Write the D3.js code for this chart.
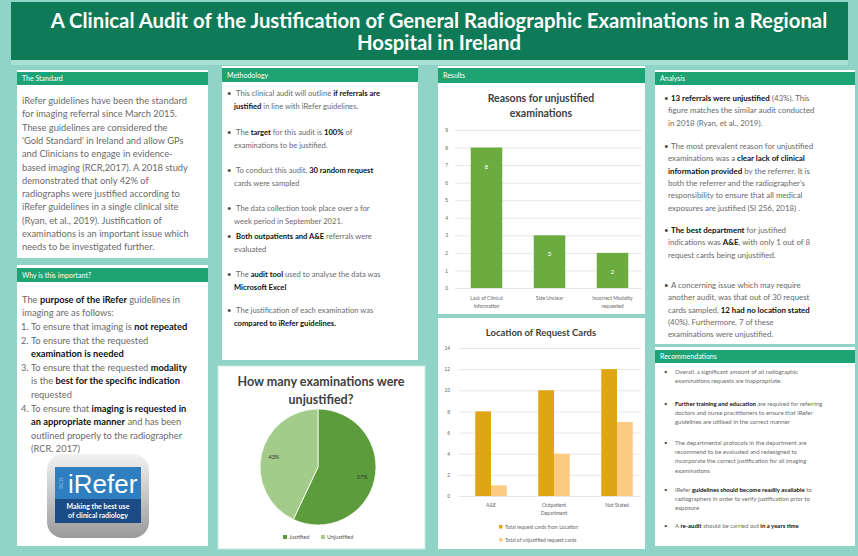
<!DOCTYPE html>
<html><head><meta charset="utf-8">
<script src="https://cdn.jsdelivr.net/npm/d3@7"></script>
<style>
html,body{margin:0;padding:0;background:#8fd4c6;}
svg{display:block;font-family:Lato,"Open Sans",sans-serif;}
</style></head>
<body>
<svg id="poster" width="858" height="556"></svg>
<script>
// ---------------- DATA ----------------
const titleLines = ["A Clinical Audit of the Justification of General Radiographic Examinations in a Regional", "Hospital in Ireland"];

const reasonCategories = [["Lack of Clinical", "Information"], ["Side Unclear"], ["Incorrect Modality", "requested"]];
const reasonValues = [8, 3, 2];
const reasonTicks = [0, 1, 2, 3, 4, 5, 6, 7, 8, 9];

const locationCategories = [["A&E"], ["Outpatient", "Department"], ["Not Stated"]];
const locationSeries = ["Total request cards from Location", "Total of unjustified request cards"];
const totalCards = [8, 10, 12];
const unjustifiedCards = [1, 4, 7];
const locationTicks = [0, 2, 4, 6, 8, 10, 12, 14];

const pieLabels = ["Justified", "Unjustified"];
const pieValues = [57, 43];

const standardText = [
  "iRefer guidelines have been the standard",
  "for imaging referral since March 2015.",
  "These guidelines are considered the",
  "'Gold Standard' in Ireland and allow GPs",
  "and Clinicians to engage in evidence-",
  "based imaging (RCR,2017). A 2018 study",
  "demonstrated that only 42% of",
  "radiographs were justified according to",
  "iRefer guidelines in a single clinical site",
  "(Ryan, et al., 2019). Justification of",
  "examinations is an important issue which",
  "needs to be investigated further."
];
const importantIntro = ["The **purpose of the iRefer** guidelines in", "imaging are as follows:"];
const importantItems = [
  ["To ensure that imaging is **not repeated**"],
  ["To ensure that the requested", "**examination is needed**"],
  ["To ensure that the requested **modality**", "is the **best for the specific indication**", "requested"],
  ["To ensure that **imaging is requested in**", "**an appropriate manner** and has been", "outlined properly to the radiographer", "(RCR. 2017)"]
];
const methodItems = [
  ["This clinical audit will outline **if referrals are**", "**justified** in line with iRefer guidelines."],
  ["The **target** for this audit is **100%** of", "examinations to be justified."],
  ["To conduct this audit, **30 random request**", "cards were sampled"],
  ["The data collection took place over a for", "week period in September 2021."],
  [" **Both outpatients and A&E** referrals were", "evaluated"],
  ["The **audit tool** used to analyse the data was", "**Microsoft Excel**"],
  ["  The justification of each examination was", "**compared to iRefer guidelines.**"]
];
const analysisItems = [
  ["**13 referrals were unjustified** (43%). This", "figure matches the similar audit conducted", "in 2018 (Ryan, et al., 2019)."],
  ["The most prevalent reason for unjustified", "examinations was a **clear lack of clinical**", "**information provided** by the referrer. It is", "both the referrer and the radiographer's", "responsibility to ensure that all medical", "exposures are justified (SI 256, 2018) ."],
  ["**The best department** for justified", "indications was **A&E**, with only 1 out of 8", "request cards being unjustified."],
  ["A concerning issue which may require", "another audit, was that out of 30 request", "cards sampled, **12 had no location stated**", "(40%). Furthermore, 7 of these", "examinations were unjustified."]
];
const recItems = [
  ["Overall, a significant amount of all radiographic", "examinations requests are inappropriate."],
  ["**Further training and education** are required for referring", "doctors and nurse practitioners to ensure that iRefer", "guidelines are utilised in the correct manner"],
  ["The departmental protocols in the department are", "recommend to be evaluated and redesigned to", "incorporate the correct justification for all imaging", "examinations"],
  ["iRefer **guidelines should become readily available** to", "radiographers in order to verify justification prior to", "exposure"],
  ["A **re-audit** should be carried out **in a years time**"]
];

// ---------------- HELPERS ----------------
const svg = d3.select("#poster");
const TEAL = "#8fd4c6", HEAD = "#1ea474", BANNER = "#0e7a57", BODY = "#6a6a6a";

function richLine(g, x, y, str, size, color, anchor) {
  const t = g.append("text").attr("x", x).attr("y", y)
    .attr("font-size", size).attr("fill", color).attr("text-anchor", anchor || "start");
  str.split("**").forEach((seg, i) => {
    if (!seg) return;
    t.append("tspan").text(seg)
      .attr("font-weight", i % 2 ? 700 : 400)
      .attr("fill", i % 2 ? "#111" : color);
  });
  return t;
}
function panel(x, y, w, h, title, hy, hh) {
  svg.append("rect").attr("x", x).attr("y", y).attr("width", w).attr("height", h).attr("fill", "#fff");
  if (title) {
    svg.append("rect").attr("x", x).attr("y", hy).attr("width", w).attr("height", hh).attr("fill", HEAD);
    svg.append("text").attr("x", x + 5).attr("y", hy + hh / 2 + 2.5).attr("font-size", 7)
      .attr("fill", "#fff").text(title);
  }
}

// ---------------- BACKGROUND & TITLE ----------------
svg.append("rect").attr("width", 858).attr("height", 556).attr("fill", TEAL);
svg.append("rect").attr("x", 11).attr("y", 2).attr("width", 837).attr("height", 58).attr("fill", BANNER);
svg.append("rect").attr("x", 11).attr("y", 60).attr("width", 837).attr("height", 5).attr("fill", "#a9e2d5");
titleLines.forEach((l, i) => {
  svg.append("text").attr("x", 439).attr("y", 28 + i * 22).attr("text-anchor", "middle")
    .attr("font-size", 20.3).attr("font-weight", 700).attr("fill", "#fff").text(l);
});

// ---------------- COLUMN 1 ----------------
panel(17, 70, 191, 188, "The Standard", 72, 13);
standardText.forEach((l, i) => richLine(svg, 22, 104 + i * 13.3, l, 9.3, BODY));

panel(17, 265, 191, 281, "Why is this important?", 268, 14);
importantIntro.forEach((l, i) => richLine(svg, 22, 303 + i * 13.3, l, 9.3, BODY));
{
  let y = 330;
  importantItems.forEach((item, k) => {
    svg.append("text").attr("x", 21).attr("y", y).attr("font-size", 9.3).attr("fill", BODY).text((k + 1) + ".");
    item.forEach((l, i) => richLine(svg, 31, y + i * 13.6, l, 9.3, BODY));
    y += item.length * 13.6;
  });
}
// logo
{
  const lg = svg.append("g");
  const grad = svg.append("defs").append("linearGradient").attr("id", "lgGrad")
    .attr("x1", 0).attr("y1", 0).attr("x2", 0).attr("y2", 1);
  grad.append("stop").attr("offset", 0).attr("stop-color", "#f2f2f2");
  grad.append("stop").attr("offset", 1).attr("stop-color", "#9a9a9a");
  lg.append("rect").attr("x", 47).attr("y", 454).attr("width", 102).attr("height", 84).attr("rx", 16).attr("fill", "url(#lgGrad)");
  lg.append("rect").attr("x", 55).attr("y", 467).attr("width", 86).attr("height", 32).attr("fill", "#2f7fc0");
  lg.append("rect").attr("x", 55).attr("y", 499).attr("width", 86).attr("height", 24).attr("fill", "#1c4c86");
  lg.append("text").attr("x", 63).attr("y", 483).attr("font-size", 6).attr("fill", "#8fb8e0")
    .attr("transform", "rotate(-90 63 483)").attr("text-anchor", "middle").text("RCR");
  lg.append("text").attr("x", 68).attr("y", 493).attr("font-size", 26).attr("fill", "#fff")
    .attr("font-family", "Liberation Sans, Arial").text("iRefer");
  lg.append("text").attr("x", 98).attr("y", 509).attr("font-size", 7).attr("font-weight", 700)
    .attr("fill", "#fff").attr("text-anchor", "middle").text("Making the best use");
  lg.append("text").attr("x", 98).attr("y", 518).attr("font-size", 7).attr("font-weight", 700)
    .attr("fill", "#fff").attr("text-anchor", "middle").text("of clinical radiology");
}

// ---------------- COLUMN 2 ----------------
panel(222, 66, 196, 294, "Methodology", 68, 14);
{
  const ys = [96, 135, 173, 211, 239, 277, 313];
  methodItems.forEach((item, k) => {
    svg.append("text").attr("x", 227).attr("y", ys[k]).attr("font-size", 7.6).attr("fill", "#444").text("•");
    item.forEach((l, i) => richLine(svg, i === 0 ? 236 : 234, ys[k] + i * 13.3, l, 7.6, BODY));
  });
}

// pie panel
svg.append("rect").attr("x", 218).attr("y", 366).attr("width", 207).attr("height", 183).attr("fill", "#fff")
  .attr("stroke", "#c8ebe3").attr("stroke-width", 1);
svg.append("text").attr("x", 321).attr("y", 386).attr("text-anchor", "middle").attr("font-size", 12.5)
  .attr("font-weight", 700).attr("fill", "#404040").text("How many examinations were");
svg.append("text").attr("x", 321).attr("y", 404).attr("text-anchor", "middle").attr("font-size", 12.5)
  .attr("font-weight", 700).attr("fill", "#404040").text("unjustified?");
{
  const pieColors = d3.scaleOrdinal().domain(pieLabels).range(["#5c9c3c", "#a3cb8a"]);
  const arcs = d3.pie().sort(null)(pieValues);
  const R = 58, cx = 318, cy = 467;
  const arc = d3.arc().innerRadius(0).outerRadius(R);
  const lab = d3.arc().innerRadius(R * 0.78).outerRadius(R * 0.78);
  const pg = svg.append("g").attr("transform", `translate(${cx},${cy})`);
  pg.selectAll("path").data(arcs).join("path").attr("d", arc)
    .attr("fill", (d, i) => pieColors(pieLabels[i])).attr("stroke", "#fff").attr("stroke-width", 0.8);
  pg.selectAll("text").data(arcs).join("text")
    .attr("transform", d => `translate(${lab.centroid(d)})`).attr("text-anchor", "middle").attr("dy", "0.35em")
    .attr("font-size", 5.5).attr("fill", "#333").text(d => d.data + "%");
  const lgd = svg.append("g").attr("transform", "translate(283,539)");
  pieLabels.forEach((l, i) => {
    const gx = i * 38;
    lgd.append("rect").attr("x", gx).attr("y", -4).attr("width", 4).attr("height", 4).attr("fill", pieColors(l));
    lgd.append("text").attr("x", gx + 6).attr("y", 0).attr("font-size", 5.5).attr("fill", "#555").text(l);
  });
}

// ---------------- COLUMN 3 ----------------
panel(438, 66, 207, 248, "Results", 68, 15);
{
  const g = svg.append("g");
  g.append("text").attr("x", 541).attr("y", 102).attr("text-anchor", "middle").attr("font-size", 10.5)
    .attr("font-weight", 700).attr("fill", "#404040").text("Reasons for unjustified");
  g.append("text").attr("x", 541).attr("y", 117).attr("text-anchor", "middle").attr("font-size", 10.5)
    .attr("font-weight", 700).attr("fill", "#404040").text("examinations");
  const x = d3.scaleBand().domain(d3.range(reasonValues.length)).range([455, 644]).paddingInner(0.5).paddingOuter(0.25);
  const y = d3.scaleLinear().domain([0, 9]).range([288, 130]);
  const ax = g.append("g").attr("transform", "translate(455,0)")
    .call(d3.axisLeft(y).tickValues(reasonTicks).tickSize(-187).tickFormat(d3.format("d")));
  ax.select(".domain").remove();
  ax.selectAll(".tick line").attr("stroke", "#dcdcdc").attr("stroke-width", 0.7);
  ax.selectAll(".tick text").attr("font-size", 5).attr("fill", "#666").attr("x", -7);
  g.selectAll("rect.bar").data(reasonValues).join("rect").attr("class", "bar")
    .attr("x", (d, i) => x(i)).attr("width", x.bandwidth())
    .attr("y", d => y(d)).attr("height", d => y(0) - y(d)).attr("fill", "#6cab3f");
  g.selectAll("text.val").data(reasonValues).join("text").attr("class", "val")
    .attr("x", (d, i) => x(i) + x.bandwidth() / 2).attr("y", d => y(d) + 21)
    .attr("text-anchor", "middle").attr("font-size", 6.5).attr("fill", "#fff").text(d => d);
  reasonCategories.forEach((c, i) => c.forEach((l, j) => {
    g.append("text").attr("x", x(i) + x.bandwidth() / 2).attr("y", 300 + j * 7.5).attr("text-anchor", "middle")
      .attr("font-size", 5).attr("fill", "#666").text(l);
  }));
}
panel(438, 318, 207, 231);
{
  const g = svg.append("g");
  g.append("text").attr("x", 541).attr("y", 336).attr("text-anchor", "middle").attr("font-size", 9.5)
    .attr("font-weight", 700).attr("fill", "#404040").text("Location of Request Cards");
  const x0 = d3.scaleBand().domain(d3.range(totalCards.length)).range([459.5, 648.5]).paddingInner(0.5).paddingOuter(0.25);
  const x1 = d3.scaleBand().domain([0, 1]).range([0, x0.bandwidth()]);
  const y = d3.scaleLinear().domain([0, 14]).range([496, 348]);
  const ax = g.append("g").attr("transform", "translate(459,0)")
    .call(d3.axisLeft(y).tickValues(locationTicks).tickSize(-182).tickFormat(d3.format("d")));
  ax.select(".domain").remove();
  ax.selectAll(".tick line").attr("stroke", "#dcdcdc").attr("stroke-width", 0.7);
  ax.selectAll(".tick text").attr("font-size", 5).attr("fill", "#666").attr("x", -9);
  const colors = ["#dfa512", "#fccb82"];
  [totalCards, unjustifiedCards].forEach((series, s) => {
    g.selectAll("rect.s" + s).data(series).join("rect").attr("class", "s" + s)
      .attr("x", (d, i) => x0(i) + x1(s)).attr("width", x1.bandwidth())
      .attr("y", d => y(d)).attr("height", d => y(0) - y(d)).attr("fill", colors[s]);
  });
  locationCategories.forEach((c, i) => c.forEach((l, j) => {
    g.append("text").attr("x", x0(i) + x0.bandwidth() / 2).attr("y", 507 + j * 7.5).attr("text-anchor", "middle")
      .attr("font-size", 5).attr("fill", "#666").text(l);
  }));
  locationSeries.forEach((l, s) => {
    g.append("rect").attr("x", 499).attr("y", 525 + s * 13).attr("width", 3.5).attr("height", 3.5).attr("fill", colors[s]);
    g.append("text").attr("x", 505).attr("y", 529 + s * 13).attr("font-size", 5).attr("fill", "#666").text(l);
  });
}

// ---------------- COLUMN 4 ----------------
panel(655, 70, 200, 274, "Analysis", 72, 13);
{
  const ys = [101, 149, 233, 288];
  analysisItems.forEach((item, k) => {
    svg.append("text").attr("x", 664).attr("y", ys[k]).attr("font-size", 7.9).attr("fill", "#444").text("•");
    item.forEach((l, i) => richLine(svg, i === 0 ? 671 : 668, ys[k] + i * 12.3, l, 7.9, BODY));
  });
}
panel(655, 347, 200, 199, "Recommendations", 350, 13);
{
  const ys = [374, 406, 445, 492, 528];
  recItems.forEach((item, k) => {
    svg.append("text").attr("x", 664).attr("y", ys[k]).attr("font-size", 6).attr("fill", "#444").text("•");
    item.forEach((l, i) => richLine(svg, 675, ys[k] + i * 9.2, l, 6, BODY));
  });
}
</script>
</body></html>
